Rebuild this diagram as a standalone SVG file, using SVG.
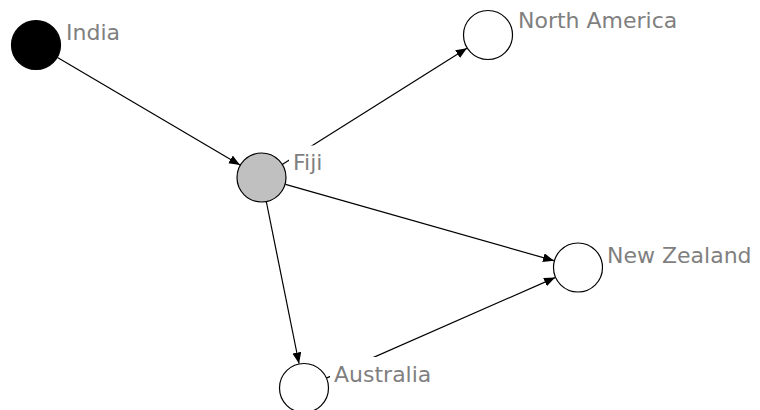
<svg xmlns="http://www.w3.org/2000/svg" width="760" height="410" viewBox="0 0 760 410">
  <defs>
    <marker id="arrow" markerUnits="userSpaceOnUse" markerWidth="12" markerHeight="10" refX="11" refY="4.5" orient="auto">
      <path d="M0,0 L11,4.5 L0,9 Z" fill="#000"/>
    </marker>
    <style>
      .edge { stroke: #000; stroke-width: 1.2; fill: none; marker-end: url(#arrow); }
      .node { stroke: #000; stroke-width: 1.2; }
      .label { font-family: "DejaVu Sans", Verdana, sans-serif; font-size: 22px; fill: #7f7f7f; }
      .bg { fill: #fff; stroke: none; }
    </style>
  </defs>
  <rect width="760" height="410" fill="#fff"/>
  <g id="connectors">
    <line class="edge" x1="57.5" y1="57.6" x2="240" y2="165"/>
    <line class="edge" x1="282.6" y1="164.2" x2="466.9" y2="48.3"/>
    <line class="edge" x1="285.5" y1="184.3" x2="554" y2="260.7"/>
    <line class="edge" x1="266.4" y1="202" x2="299" y2="363.5"/>
    <line class="edge" x1="326.9" y1="377.9" x2="555.1" y2="277.6"/>
  </g>
  <g id="india">
    <circle class="node" cx="36" cy="45" r="24.5" fill="#000"/>
    <rect class="bg" x="62" y="15" width="62" height="32"/>
    <text class="label" x="66" y="40">India</text>
  </g>
  <g id="fiji">
    <circle class="node" cx="261.5" cy="177.5" r="24.5" fill="#c0c0c0"/>
    <rect class="bg" x="289" y="145.5" width="38" height="30"/>
    <text class="label" x="293" y="170">Fiji</text>
  </g>
  <g id="north-america">
    <circle class="node" cx="488" cy="35" r="24.5" fill="#fff"/>
    <rect class="bg" x="514" y="3" width="168" height="31"/>
    <text class="label" x="518" y="28">North America</text>
  </g>
  <g id="new-zealand">
    <circle class="node" cx="578" cy="267.5" r="24.5" fill="#fff"/>
    <rect class="bg" x="603" y="238" width="154" height="31"/>
    <text class="label" x="607" y="263">New Zealand</text>
  </g>
  <g id="australia">
    <circle class="node" cx="304" cy="388" r="24.5" fill="#fff"/>
    <rect class="bg" x="330" y="357" width="105" height="31"/>
    <text class="label" x="334" y="382">Australia</text>
  </g>
</svg>
